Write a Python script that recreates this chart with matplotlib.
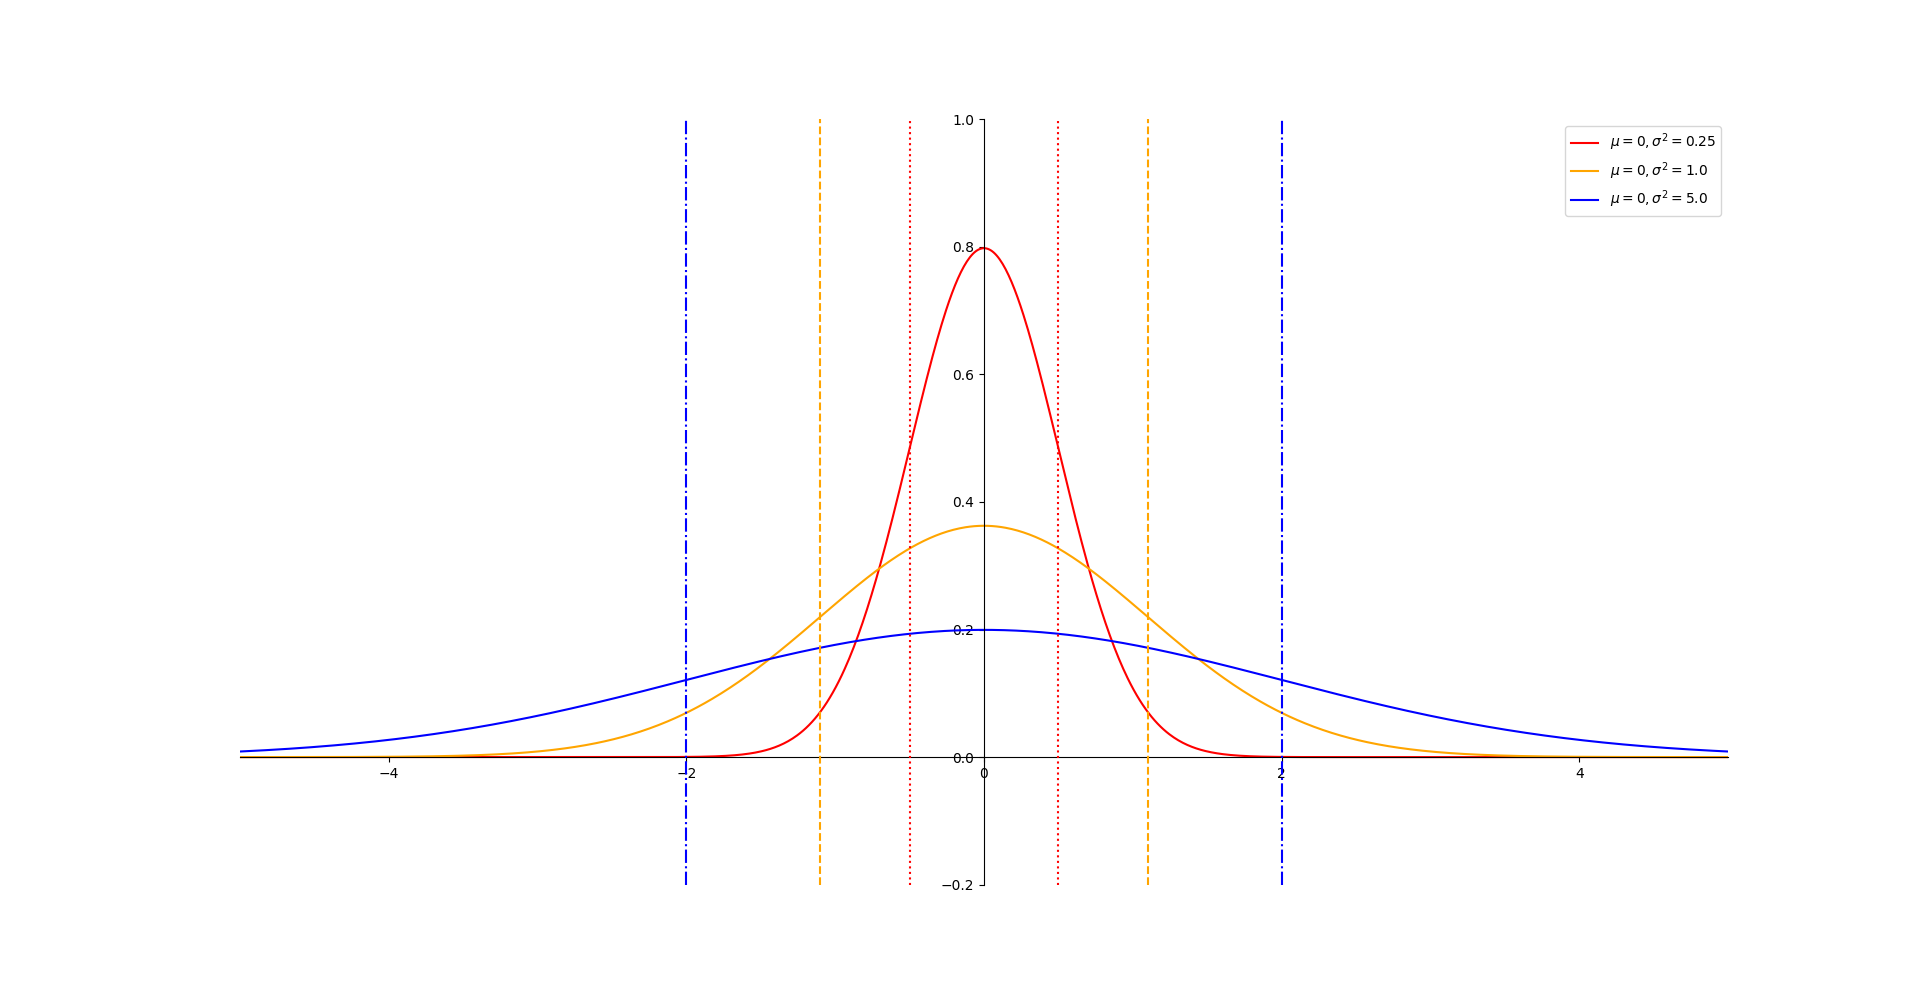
#!/usr/bin/env python3
# -*- coding: utf-8 -*-

import numpy as np
from matplotlib import pyplot as plt

# curve parameters
mus = [0.0, 0.0, 0.0]
sigmas = [0.5, 1.1, 2.0]
labels = [r'$\mu=0, \sigma^2=0.25$',
          r'$\mu=0, \sigma^2=1.0$',
          r'$\mu=0, \sigma^2=5.0$']
colors = ['red', 'orange', 'blue']
vstyles = [':', '--', '-.']

x = np.linspace(-5, 5, 1000)

fig, ax = plt.subplots(figsize=(19.2, 9.94), dpi=100)

for mu, sigma, label, color, ls in zip(mus, sigmas, labels, colors, vstyles):
    y = np.exp(-(x - mu) ** 2 / (2 * sigma ** 2)) / (sigma * np.sqrt(2 * np.pi))
    ax.plot(x, y, color=color, label=label)
    ax.axvline(mu - sigma, color=color, linestyle=ls, zorder=3)
    ax.axvline(mu + sigma, color=color, linestyle=ls, zorder=3)

ax.set_xlim(-5, 5)
ax.set_ylim(-0.2, 1.0)

ax.spines['left'].set_position(('data', 0))
ax.spines['bottom'].set_position(('data', 0))
ax.spines['right'].set_visible(False)
ax.spines['top'].set_visible(False)

ax.legend(loc='upper right')

plt.savefig('out.png', dpi=100)
